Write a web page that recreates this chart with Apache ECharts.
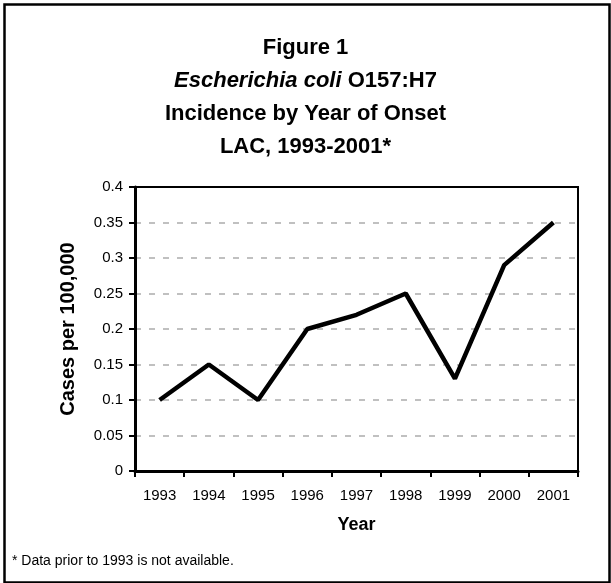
<!DOCTYPE html>
<html>
<head>
<meta charset="utf-8">
<script src="https://cdn.jsdelivr.net/npm/echarts@6/dist/echarts.min.js"></script>
<style>
html,body{margin:0;padding:0;background:#fff;}
#chart{width:611px;height:583px;}
</style>
</head>
<body>
<div id="chart"></div>
<script>
const years = ['1993','1994','1995','1996','1997','1998','1999','2000','2001'];
const incidence = [0.10, 0.15, 0.10, 0.20, 0.22, 0.25, 0.13, 0.29, 0.35];
const titleLines = ['Figure 1', 'Escherichia coli', 'O157:H7', 'Incidence by Year of Onset', 'LAC, 1993-2001*'];
const yAxisName = 'Cases per 100,000';
const xAxisName = 'Year';
const footnote = '* Data prior to 1993 is not available.';

const FONT = '"Liberation Sans", Arial, sans-serif';
const chart = echarts.init(document.getElementById('chart'), null, {renderer: 'canvas'});
const tStyle = {fontFamily: FONT, fontSize: 22, fontWeight: 'bold', color: '#000'};

chart.setOption({
  animation: false,
  backgroundColor: '#fff',
  title: [
    {text: titleLines[0], left: 'center', top: 32, textStyle: tStyle},
    {text: '{i|' + titleLines[1] + '} {b|' + titleLines[2] + '}', left: 'center', top: 65,
     textStyle: Object.assign({}, tStyle, {rich: {
       i: {fontFamily: FONT, fontSize: 22, fontWeight: 'bold', fontStyle: 'italic', color: '#000'},
       b: {fontFamily: FONT, fontSize: 22, fontWeight: 'bold', color: '#000'}}})},
    {text: titleLines[3], left: 'center', top: 98, textStyle: tStyle},
    {text: titleLines[4], left: 'center', top: 131, textStyle: tStyle}
  ],
  graphic: [
    {type: 'rect', left: 2, top: 2, shape: {width: 605, height: 578}, style: {fill: 'none', stroke: '#000', lineWidth: 2.5}, silent: true},
    {type: 'text', left: 12, top: 554, style: {text: footnote, font: '14px ' + FONT, fill: '#000'}}
  ],
  grid: {left: 135, top: 187, width: 443, height: 284, show: true, borderColor: '#000', borderWidth: 2, backgroundColor: 'transparent', z: 3},
  xAxis: {
    type: 'category', data: years, boundaryGap: true,
    name: xAxisName, nameLocation: 'middle', nameGap: 45,
    nameTextStyle: {fontFamily: FONT, fontSize: 18, fontWeight: 'bold', color: '#000'},
    axisLine: {lineStyle: {color: '#000', width: 3}},
    axisTick: {show: true, length: 6, lineStyle: {color: '#000', width: 2}},
    axisLabel: {fontFamily: FONT, fontSize: 15, color: '#000', margin: 17},
    splitLine: {show: false}
  },
  yAxis: {
    type: 'value', min: 0, max: 0.4, interval: 0.05,
    name: yAxisName, nameLocation: 'middle', nameGap: 57,
    nameTextStyle: {fontFamily: FONT, fontSize: 20, fontWeight: 'bold', color: '#000'},
    axisLine: {show: true, lineStyle: {color: '#000', width: 3}},
    axisTick: {show: true, length: 6, lineStyle: {color: '#000', width: 2}},
    axisLabel: {fontFamily: FONT, fontSize: 15, color: '#000', margin: 12},
    splitLine: {show: true, showMinLine: false, showMaxLine: false, lineStyle: {color: '#c0c0c0', width: 2, type: [6, 8]}}
  },
  series: [{
    type: 'line', data: incidence, symbol: 'none',
    lineStyle: {color: '#000', width: 4.5}, z: 5
  }]
});
</script>
</body>
</html>
